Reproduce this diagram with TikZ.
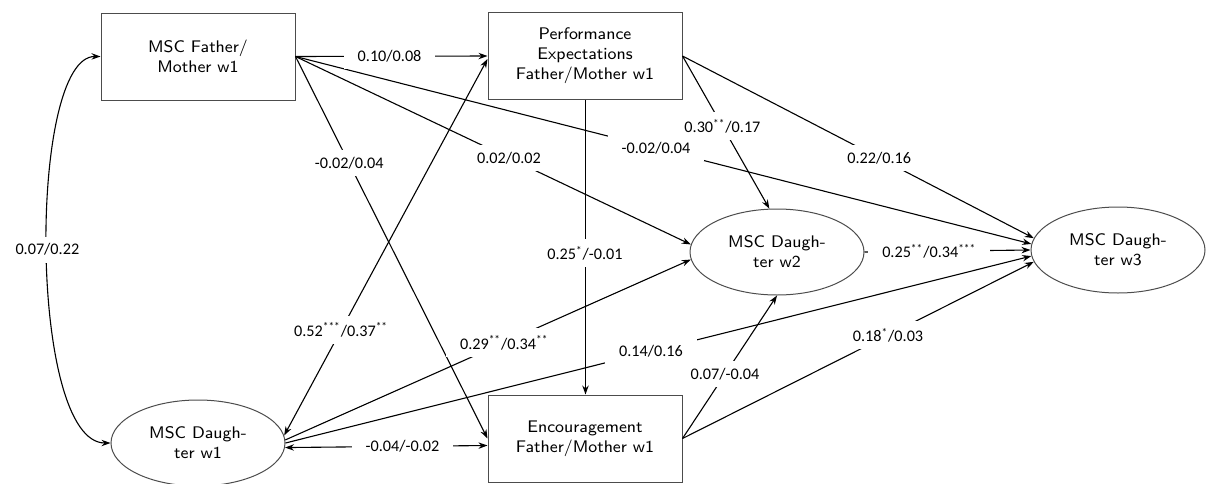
\documentclass[tikz,border=0pt]{standalone}
\usepackage{fontspec}
\newfontfamily\lblfont{Carlito}
\usetikzlibrary{arrows.meta,shapes.geometric}
\newcommand\sigmark[1]{\textsuperscript{#1}}
\begin{document}
\begin{tikzpicture}[x=0.5pt,y=-0.5pt,
  nodefont/.style={font=\sffamily\fontsize{8.4}{10}\selectfont},
  box/.style={draw=black!70, line width=0.5pt, minimum width=97pt, minimum height=43.5pt, inner sep=0pt, align=center, nodefont},
  oval/.style={ellipse, draw=black!70, line width=0.5pt, minimum width=87pt, minimum height=43pt, inner sep=0pt, align=center, nodefont},
  con/.style={line width=0.55pt, -{Stealth[length=4.5pt,width=3.2pt]}},
  bicon/.style={line width=0.55pt, {Stealth[length=4.5pt,width=3.2pt]}-{Stealth[length=4.5pt,width=3.2pt]}},
  lbl/.style={fill=white, inner xsep=7pt, inner ysep=3.5pt, font=\lblfont\fontsize{8.1}{10}\selectfont}
]
\useasboundingbox (0,0) rectangle (1212,483);

\node[box] (F) at (198,56.5) {MSC Father/\\Mother w1};
\node[box] (P) at (585,56) {Performance\\Expectations\\Father/Mother w1};
\node[box] (E) at (585,438.5) {Encouragement\\Father/Mother w1};
\node[oval] (D1) at (198,443) {MSC Daugh-\\ter w1};
\node[oval] (D2) at (777,252) {MSC Daugh-\\ter w2};
\node[oval] (D3) at (1118,250) {MSC Daugh-\\ter w3};

% connectors
\draw[con] (F.east) -- (P.west);
\draw[con] (F.east) -- (D3.176);
\draw[con] (F.east) -- (D2.175);
\draw[con] (F.east) -- (E.west);
\draw[con] ([xshift=0.25pt]P.south) -- ([xshift=0.25pt]E.north);
\draw[con] (P.east) -- (D2.100);
\draw[con] (P.east) -- (D3.172);
\draw[con] (D2.east) -- (D3.west);
\draw[bicon] (D1.5) -- ([yshift=-1.5pt]P.west);
\draw[con] (D1.2) -- (D2.185);
\draw[con] (D1.0) -- (D3.184);
\draw[bicon] (D1.-3) -- ([yshift=-3.5pt]E.west);
\draw[con] (E.east) -- (D2.south);
\draw[con] (E.east) -- (D3.188);
\draw[bicon] (F.west) .. controls (28,56) and (28,443) .. (D1.west);

% labels
\path (F.east) -- node[lbl,pos=0.49]{0.10/0.08} (P.west);
\path (P.east) -- node[lbl,pos=0.46]{0.30\sigmark{**}/0.17} (D2.100);
\path (F.east) -- node[lbl,pos=0.49]{-0.02/0.04} (D3.176);
\path (F.east) -- node[lbl,pos=0.54]{0.02/0.02} (D2.175);
\path (F.east) -- node[lbl,pos=0.28]{-0.02/0.04} (E.west);
\path (P.south) -- node[lbl,pos=0.52]{0.25\sigmark{*}/-0.01} (E.north);
\path (P.east) -- node[lbl,pos=0.56]{0.22/0.16} (D3.172);
\path (D2.east) -- node[lbl,pos=0.39]{0.25\sigmark{**}/0.34\sigmark{***}} (D3.west);
\path (D1.5) -- node[lbl,pos=0.28]{0.52\sigmark{***}/0.37\sigmark{**}} ([yshift=-1.5pt]P.west);
\path (D1.2) -- node[lbl,pos=0.54]{0.29\sigmark{**}/0.34\sigmark{**}} (D2.185);
\path (D1.0) -- node[lbl,pos=0.49]{0.14/0.16} (D3.184);
\path (D1.-3) -- node[lbl,pos=0.58]{-0.04/-0.02} ([yshift=-3.5pt]E.west);
\path (E.east) -- node[lbl,pos=0.45]{0.07/-0.04} (D2.south);
\path (E.east) -- node[lbl,pos=0.585]{0.18\sigmark{*}/0.03} (D3.188);
\path (F.west) .. controls (28,56) and (28,443) .. node[lbl,pos=0.5]{0.07/0.22} (D1.west);
\end{tikzpicture}
\end{document}
